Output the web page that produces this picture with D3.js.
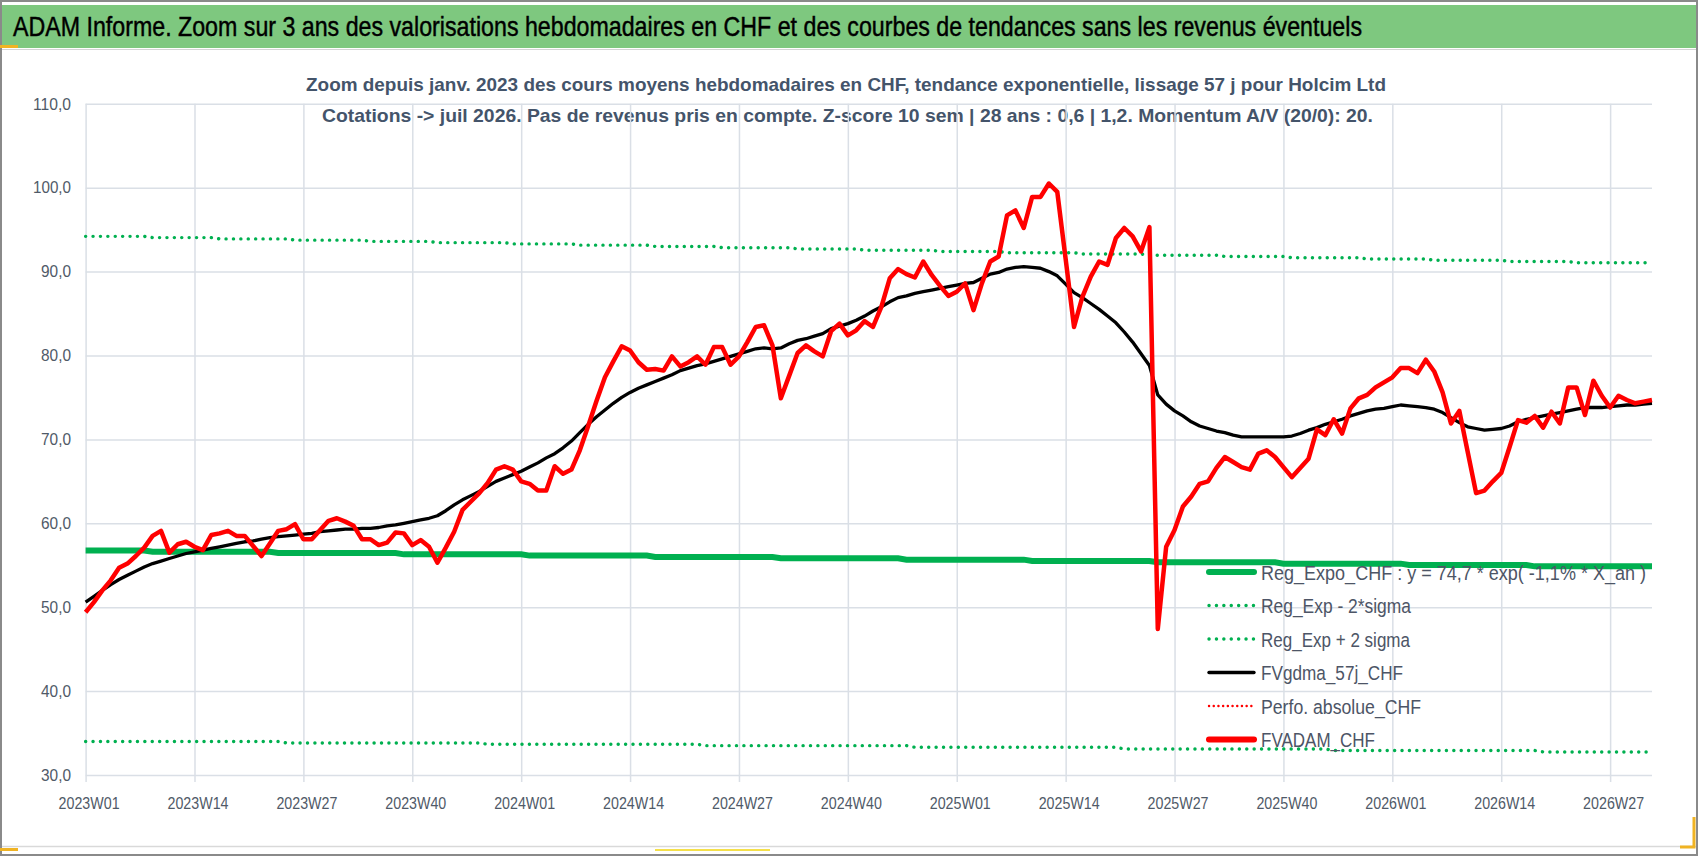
<!DOCTYPE html>
<html><head><meta charset="utf-8">
<script src="https://cdn.jsdelivr.net/npm/d3@7/dist/d3.min.js"></script>
<style>
html,body{margin:0;padding:0;background:#fff;}
svg{display:block;}
text{font-family:"Liberation Sans Narrow","Liberation Sans",Arial,sans-serif;}
</style></head>
<body><svg id="chart" width="1698" height="856"></svg>
<script>
// ---------- DATA ----------
const years = [2023, 2024, 2025, 2026];
const weeksPerYear = 52;
const nPoints = 188;
const tickLabels = ["2023W01","2023W14","2023W27","2023W40","2024W01","2024W14","2024W27","2024W40","2025W01","2025W14","2025W27","2025W40","2026W01","2026W14","2026W27"];
const yTicks = [30,40,50,60,70,80,90,100,110];

// FVADAM_CHF (weekly average price, CHF)
const fvadam = [49.4,50.6,52.0,53.2,54.7,55.2,56.1,57.1,58.5,59.1,
56.5,57.5,57.8,57.2,56.8,58.6,58.8,59.1,58.5,58.5,
57.3,56.1,57.6,59.1,59.3,59.9,58.1,58.1,59.2,60.3,
60.6,60.2,59.7,58.1,58.1,57.4,57.7,58.9,58.8,57.4,
58.0,57.2,55.3,57.1,59.0,61.6,62.6,63.6,64.8,66.4,
66.8,66.4,65.0,64.7,63.9,63.9,66.8,65.9,66.4,68.7,
71.6,74.6,77.4,79.3,81.1,80.6,79.2,78.3,78.4,78.2,
79.9,78.7,79.2,79.9,78.9,81.0,81.0,78.9,79.9,81.6,
83.4,83.6,81.2,74.9,77.6,80.3,81.2,80.5,79.9,82.9,
83.8,82.4,83.0,84.1,83.4,85.8,89.2,90.3,89.7,89.3,
91.2,89.6,88.3,87.1,87.6,88.6,85.4,88.6,91.2,91.8,
96.7,97.3,95.2,98.9,98.9,100.5,99.5,91.5,83.4,87.0,
89.4,91.2,90.8,94.0,95.2,94.2,92.4,95.3,47.4,57.2,
59.2,62.0,63.2,64.7,65.0,66.6,67.9,67.3,66.7,66.4,
68.3,68.7,67.9,66.7,65.5,66.6,67.7,71.2,70.5,72.4,
70.7,73.7,74.9,75.3,76.2,76.8,77.4,78.5,78.5,77.9,
79.5,78.1,75.6,71.9,73.4,68.5,63.6,63.9,65.0,66.0,
69.1,72.3,72.0,72.8,71.4,73.3,71.9,76.2,76.2,72.9,
77.0,75.2,73.8,75.2,74.7,74.3,74.5,74.7];

// FVgdma_57j_CHF (57-day smoothing)
const fvgdma = [50.6,51.3,52.0,52.7,53.3,53.8,54.3,54.8,55.2,55.5,
55.8,56.1,56.4,56.6,56.8,57.0,57.2,57.4,57.6,57.8,
57.9,58.1,58.3,58.4,58.5,58.6,58.7,58.8,59.0,59.1,
59.2,59.3,59.3,59.4,59.4,59.5,59.7,59.8,60.0,60.2,
60.4,60.6,60.9,61.5,62.2,62.8,63.3,63.8,64.4,65.0,
65.4,65.8,66.2,66.7,67.2,67.8,68.3,69.0,69.8,70.8,
71.8,72.7,73.5,74.3,75.0,75.6,76.1,76.5,76.9,77.3,
77.7,78.2,78.5,78.8,79.0,79.3,79.6,79.9,80.2,80.5,
80.8,80.9,80.8,80.9,81.4,81.8,82.0,82.3,82.6,83.2,
83.5,83.8,84.2,84.7,85.3,85.8,86.4,86.9,87.1,87.4,
87.6,87.8,88.0,88.2,88.4,88.6,88.7,89.2,89.7,89.9,
90.3,90.5,90.6,90.5,90.4,90.0,89.5,88.5,87.5,86.9,
86.2,85.5,84.7,83.9,82.8,81.6,80.2,78.8,75.3,74.2,
73.4,72.8,72.1,71.6,71.3,71.0,70.8,70.5,70.3,70.3,
70.3,70.3,70.3,70.3,70.4,70.7,71.1,71.4,71.8,72.1,
72.4,72.8,73.1,73.4,73.6,73.7,73.9,74.1,74.0,73.9,
73.8,73.6,73.2,72.6,72.0,71.5,71.3,71.1,71.2,71.3,
71.6,72.1,72.4,72.6,72.8,73.0,73.2,73.4,73.6,73.8,
73.8,73.8,73.9,74.0,74.1,74.1,74.2,74.3];

// Regression and +/- 2 sigma bands: [first week index of level, level value]
const regExpoSteps = [[0,56.75],[8,56.6],[23,56.45],[38,56.3],[53,56.15],[68,55.99],[83,55.83],[98,55.67],[113,55.51],[128,55.35],[143,55.19],[158,55.03],[173,54.87]];
const regPlusSteps = [[0,94.2],[8,94.05],[16,93.9],[25,93.75],[34,93.6],[42,93.45],[51,93.3],[59,93.15],[68,93.0],[76,92.85],[85,92.7],[93,92.55],[102,92.4],[110,92.25],[119,92.1],[127,91.95],[136,91.8],[144,91.65],[153,91.5],[161,91.35],[170,91.2],[178,91.05]];
const regMinusSteps = [[0,34.0],[24,33.82],[48,33.66],[74,33.5],[99,33.3],[124,33.1],[149,32.92],[174,32.75]];

const legendLabels = ["Reg_Expo_CHF : y = 74,7 * exp( -1,1% * X_an )","Reg_Exp - 2*sigma","Reg_Exp + 2 sigma","FVgdma_57j_CHF","Perfo. absolue_CHF","FVADAM_CHF"];
const titleText = "ADAM Informe. Zoom sur 3 ans des valorisations hebdomadaires en CHF et des courbes de tendances sans les revenus éventuels";
const subtitle1 = "Zoom depuis janv. 2023 des cours moyens hebdomadaires en CHF, tendance exponentielle, lissage 57 j pour Holcim Ltd";
const subtitle2 = "Cotations -> juil 2026. Pas de revenus pris en compte. Z-score 10 sem | 28 ans : 0,6 | 1,2. Momentum A/V (20/0): 20.";

// ---------- helpers ----------
const categories = [];
years.forEach(yr => { for (let w = 1; w <= weeksPerYear; w++) categories.push(yr + "W" + String(w).padStart(2, "0")); });
const cats = categories.slice(0, nPoints);
function expandSteps(steps, n) {
  const out = []; let k = 0;
  for (let i = 0; i < n; i++) { while (k + 1 < steps.length && steps[k + 1][0] <= i) k++; out.push(steps[k][1]); }
  return out;
}
const regExpo = expandSteps(regExpoSteps, nPoints);
const regPlus = expandSteps(regPlusSteps, nPoints);
const regMinus = expandSteps(regMinusSteps, nPoints);

// ---------- drawing ----------
(function draw() {
const svg = d3.select("#chart");
const W = 1698, H = 856;
const pLeft = 85.6, pRight = 1652, pTop = 103.8, pBottom = 775;

// frame
svg.append("rect").attr("x", 0).attr("y", 0).attr("width", W).attr("height", H).attr("fill", "#fff");
svg.append("rect").attr("x", 2).attr("y", 5).attr("width", W - 4).attr("height", 43).attr("fill", "#7ec87f");
svg.append("line").attr("x1", 2).attr("x2", W - 2).attr("y1", 49.5).attr("y2", 49.5).attr("stroke", "#d4d4d4").attr("stroke-width", 1);
svg.append("line").attr("x1", 2).attr("x2", W - 2).attr("y1", 846.5).attr("y2", 846.5).attr("stroke", "#d9d9d9").attr("stroke-width", 1.5);
svg.append("rect").attr("x", 1).attr("y", 1).attr("width", W - 2).attr("height", H - 2).attr("fill", "none").attr("stroke", "#8a8a8a").attr("stroke-width", 2);
svg.append("rect").attr("x", 0).attr("y", 45).attr("width", 18).attr("height", 3).attr("fill", "#f0b323");
svg.append("rect").attr("x", 0).attr("y", 848).attr("width", 18).attr("height", 3).attr("fill", "#f0b323");
svg.append("rect").attr("x", 655).attr("y", 849).attr("width", 115).attr("height", 2).attr("fill", "#f5e04a");
svg.append("path").attr("d", "M1680,847 L1694,847 L1694,817").attr("fill", "none").attr("stroke", "#f0b323").attr("stroke-width", 3);

// title
svg.append("text").attr("x", 13).attr("y", 36).attr("font-size", 27.5).attr("fill", "#000")
  .attr("stroke", "#000").attr("stroke-width", 0.45)
  .attr("textLength", 1349).attr("lengthAdjust", "spacingAndGlyphs").text(titleText);
svg.append("text").attr("x", 306).attr("y", 91).attr("font-size", 19).attr("font-weight", "bold").attr("fill", "#44546a")
  .attr("textLength", 1080).attr("lengthAdjust", "spacingAndGlyphs").text(subtitle1);
svg.append("text").attr("x", 322).attr("y", 122).attr("font-size", 19).attr("font-weight", "bold").attr("fill", "#44546a")
  .attr("textLength", 1051).attr("lengthAdjust", "spacingAndGlyphs").text(subtitle2);

// scales
const x = d3.scaleLinear().domain([0, nPoints - 1]).range([pLeft, pRight]);
const y = d3.scaleLinear().domain([30, 110]).range([pBottom, pTop]);

// horizontal grid + y labels
const yAxis = d3.axisLeft(y).tickValues(yTicks).tickSize(-(pRight - pLeft)).tickPadding(15)
  .tickFormat(d => d3.format(".1f")(d).replace(".", ","));
const gy = svg.append("g").attr("transform", `translate(${pLeft},0)`).call(yAxis);
gy.select(".domain").remove();
gy.selectAll(".tick line").attr("stroke", "#dadfe6").attr("stroke-width", 1.5);
gy.selectAll(".tick text").attr("fill", "#505a68").attr("font-size", 16.5).attr("x", 71 - pLeft)
  .attr("lengthAdjust", "spacingAndGlyphs")
  .attr("textLength", d => d >= 100 ? 38 : 30);

// vertical grid + x labels
const tickIdx = tickLabels.map(l => cats.indexOf(l));
const xAxis = d3.axisBottom(x).tickValues(tickIdx).tickSize(-(782 - pTop)).tickPadding(15)
  .tickFormat(i => cats[i]);
const gx = svg.append("g").attr("transform", `translate(0,782)`).call(xAxis);
gx.select(".domain").remove();
gx.selectAll(".tick line").attr("stroke", "#dadfe6").attr("stroke-width", 1.5);
gx.selectAll(".tick text").attr("fill", "#505a68").attr("font-size", 17).attr("dx", 3)
  .attr("textLength", 61).attr("lengthAdjust", "spacingAndGlyphs");

// series
const line = d3.line().x((d, i) => x(i)).y(d => y(d)).curve(d3.curveLinear);
const plot = svg.append("g");
plot.append("path").datum(regExpo).attr("d", line).attr("fill", "none").attr("stroke", "#00b050").attr("stroke-width", 6);
[regMinus, regPlus].forEach(s => {
  plot.append("path").datum(s).attr("d", line).attr("fill", "none").attr("stroke", "#00b050")
    .attr("stroke-width", 3.4).attr("stroke-linecap", "round").attr("stroke-dasharray", "0.1 7.3");
});
plot.append("path").datum(fvgdma).attr("d", line).attr("fill", "none").attr("stroke", "#000").attr("stroke-width", 3.3).attr("stroke-linejoin", "round");
plot.append("path").datum(fvadam).attr("d", line).attr("fill", "none").attr("stroke", "#ff0000").attr("stroke-width", 4.5).attr("stroke-linejoin", "round");

// legend
const legendStyles = [
  {color: "#00b050", w: 6, dash: null, cap: "round"},
  {color: "#00b050", w: 3.4, dash: "0.1 7.3", cap: "round"},
  {color: "#00b050", w: 3.4, dash: "0.1 7.3", cap: "round"},
  {color: "#000000", w: 3.4, dash: null, cap: "round"},
  {color: "#ff0000", w: 2.4, dash: "0.1 4.6", cap: "round"},
  {color: "#ff0000", w: 6, dash: null, cap: "round"}
];
const legendWidths = [385, 150, 149, 142, 160, 114];
const lg = svg.append("g");
legendLabels.forEach((lab, i) => {
  const cy = 572 + i * 33.5;
  const st = legendStyles[i];
  const l = lg.append("line").attr("x1", 1209).attr("x2", 1254).attr("y1", cy).attr("y2", cy)
    .attr("stroke", st.color).attr("stroke-width", st.w).attr("stroke-linecap", st.cap);
  if (st.dash) l.attr("stroke-dasharray", st.dash);
  lg.append("text").attr("x", 1261).attr("y", cy + 7.5).attr("font-size", 20.5).attr("fill", "#4d5566")
    .attr("textLength", legendWidths[i]).attr("lengthAdjust", "spacingAndGlyphs").text(lab);
});
})();
</script></body></html>
